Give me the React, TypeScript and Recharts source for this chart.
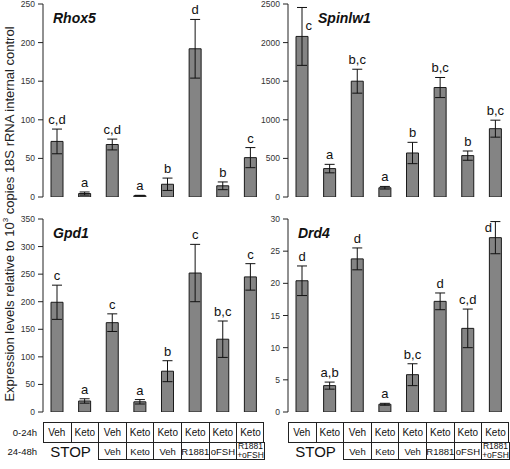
import React from 'react';
import { BarChart, Bar, XAxis, YAxis, ErrorBar, LabelList } from 'recharts';

// groups, left to right (0-24h / 24-48h treatment)
const firstPeriod = ['Veh', 'Keto', 'Veh', 'Keto', 'Keto', 'Keto', 'Keto', 'Keto'];
const secondPeriod = ['STOP', 'STOP', 'Veh', 'Keto', 'Veh', 'R1881', 'oFSH', 'R1881\n+oFSH'];

const rhox5Values = [72, 4.5, 68, 1.7, 16.5, 192, 14.5, 51];
const rhox5Errors = [16, 2, 7, 0.5, 8, 38, 5, 13];
const rhox5Letters = ['c,d', 'a', 'c,d', 'a', 'b', 'd', 'b', 'c'];

const spinlw1Values = [2080, 368, 1500, 120, 570, 1418, 536, 885];
const spinlw1Errors = [375, 55, 155, 17, 138, 130, 60, 110];
const spinlw1Letters = ['c', 'a', 'b,c', 'a', 'b', 'b,c', 'b', 'b,c'];

const gpd1Values = [199, 20, 162, 18.5, 74, 252, 132, 245];
const gpd1Errors = [31, 4, 16, 4, 19, 52, 33, 24];
const gpd1Letters = ['c', 'a', 'c', 'a', 'b', 'c', 'b,c', 'c'];

const drd4Values = [20.4, 4.1, 23.8, 1.2, 5.8, 17.2, 13.0, 27.1];
const drd4Errors = [2.3, 0.55, 1.7, 0.15, 1.7, 1.3, 3.0, 2.5];
const drd4Letters = ['d', 'a,b', 'd', 'a', 'b,c', 'd', 'c,d', 'd'];

const rhox5Ticks = [0, 50, 100, 150, 200, 250];
const spinlw1Ticks = [0, 500, 1000, 1500, 2000, 2500];
const gpd1Ticks = [0, 50, 100, 150, 200, 250, 300, 350];
const drd4Ticks = [0, 5, 10, 15, 20, 25, 30];

const FONT = 'Arial, "Liberation Sans", Helvetica, sans-serif';
const BAND = 27.6;

function makeRows(values: number[], errors: number[], letters: string[]) {
  return values.map((v, i) => ({ name: `g${i}`, value: v, error: errors[i], letter: letters[i] }));
}

function LetterLabel(props: any) {
  const { x, y, width, height, index, value, rows, plotTop } = props;
  const row = rows[index];
  const cx = x + width / 2;
  const perUnit = row.value > 0 ? height / row.value : 0;
  const errTop = y - row.error * perUnit;
  let tx = cx;
  let ty = errTop - 5;
  let anchor: 'middle' | 'start' | 'end' = 'middle';
  if (errTop - 12 < plotTop) {
    // no room above the error bar: put the letter beside it
    const inward = index < rows.length / 2;
    tx = inward ? cx + 3.5 : cx - 3.5;
    anchor = inward ? 'start' : 'end';
    ty = y - 6;
  }
  return (
    <text x={tx} y={ty} textAnchor={anchor} fontSize={13} fontFamily={FONT} fill="#111">
      {value}
    </text>
  );
}

interface PanelProps {
  left: number;
  top: number;
  width: number;
  title: string;
  titleOffset: number;
  rows: { name: string; value: number; error: number; letter: string }[];
  ticks: number[];
  marginLeft: number;
  marginRight: number;
}

function Panel({ left, top, width, title, titleOffset, rows, ticks, marginLeft, marginRight }: PanelProps) {
  const height = 215;
  const marginTop = 10;
  const max = ticks[ticks.length - 1];
  return (
    <div style={{ position: 'absolute', left, top: top - 6, width, height }}>
      <BarChart
        width={width}
        height={height}
        data={rows}
        margin={{ top: marginTop, right: marginRight, bottom: 12, left: marginLeft }}
        barCategoryGap={0}
      >
        <XAxis dataKey="name" tick={false} tickLine={false} height={0} axisLine={{ stroke: '#222' }} />
        <YAxis
          width={30}
          domain={[0, max]}
          ticks={ticks}
          interval={0}
          allowDataOverflow
          tickSize={5}
          tickMargin={3}
          axisLine={{ stroke: '#222' }}
          tickLine={{ stroke: '#222' }}
          tick={{ fontSize: 8.5, fontFamily: FONT, fill: '#333' }}
        />
        <Bar dataKey="value" fill="#848484" stroke="#1a1a1a" strokeWidth={1} barSize={12} isAnimationActive={false}>
          <ErrorBar dataKey="error" width={5} stroke="#111" strokeWidth={1} direction="y" />
          <LabelList dataKey="letter" content={(p: any) => <LetterLabel {...p} rows={rows} plotTop={marginTop} />} />
        </Bar>
      </BarChart>
      <div
        style={{
          position: 'absolute',
          left: marginLeft + 30 + titleOffset,
          top: 16,
          fontFamily: FONT,
          fontWeight: 'bold',
          fontStyle: 'italic',
          fontSize: 14,
          color: '#111',
          lineHeight: '16px',
        }}
      >
        {title}
      </div>
    </div>
  );
}

function TreatmentTable({ left, showLabels }: { left: number; showLabels: boolean }) {
  const top = 422;
  const rowH = 21;
  const row2H = 17;
  const cell: React.CSSProperties = {
    position: 'absolute',
    boxSizing: 'border-box',
    display: 'flex',
    alignItems: 'center',
    justifyContent: 'center',
    fontFamily: FONT,
    fontSize: 10,
    color: '#111',
    textAlign: 'center',
    lineHeight: '9px',
  };
  const width = BAND * firstPeriod.length;
  return (
    <>
      {showLabels && (
        <>
          <div style={{ ...cell, left: 0, width: left - 6, top, height: rowH, justifyContent: 'flex-end', fontSize: 9.5 }}>0-24h</div>
          <div style={{ ...cell, left: 0, width: left - 6, top: top + rowH, height: row2H, justifyContent: 'flex-end', fontSize: 9.5 }}>24-48h</div>
        </>
      )}
      <div style={{ position: 'absolute', left, top, width, height: rowH, border: '1px solid #222', boxSizing: 'border-box' }} />
      {firstPeriod.map((t, i) => (
        <div
          key={`a${i}`}
          style={{
            ...cell,
            left: left + i * BAND,
            top,
            width: BAND,
            height: rowH,
            borderLeft: i > 0 ? '1px solid #222' : undefined,
          }}
        >
          {t}
        </div>
      ))}
      <div style={{ ...cell, left, top: top + rowH, width: BAND * 2, height: row2H, fontSize: 15 }}>STOP</div>
      {secondPeriod.slice(2).map((t, j) => {
        const i = j + 2;
        const lines = t.split('\n');
        return (
          <div
            key={`b${i}`}
            style={{
              ...cell,
              left: left + i * BAND,
              top: top + rowH - 1,
              width: BAND + 1,
              height: row2H + 1,
              border: '1px solid #222',
              flexDirection: 'column',
              fontSize: lines.length > 1 ? 8.5 : 9.5,
            }}
          >
            {lines.map((l, k) => (
              <span key={k}>{l}</span>
            ))}
          </div>
        );
      })}
    </>
  );
}

export default function App() {
  return (
    <div style={{ position: 'absolute', left: 0, top: 0, width: 510, height: 469, background: '#fff', overflow: 'hidden' }}>
      <Panel left={0} top={0} width={270} title="Rhox5" titleOffset={10} rows={makeRows(rhox5Values, rhox5Errors, rhox5Letters)} ticks={rhox5Ticks} marginLeft={13} marginRight={6} />
      <Panel left={255} top={0} width={255} title="Spinlw1" titleOffset={30} rows={makeRows(spinlw1Values, spinlw1Errors, spinlw1Letters)} ticks={spinlw1Ticks} marginLeft={3} marginRight={1} />
      <Panel left={0} top={215} width={270} title="Gpd1" titleOffset={10} rows={makeRows(gpd1Values, gpd1Errors, gpd1Letters)} ticks={gpd1Ticks} marginLeft={13} marginRight={6} />
      <Panel left={255} top={215} width={255} title="Drd4" titleOffset={10} rows={makeRows(drd4Values, drd4Errors, drd4Letters)} ticks={drd4Ticks} marginLeft={3} marginRight={1} />
      <div
        style={{
          position: 'absolute',
          left: 9,
          top: 214,
          transform: 'translate(-50%, -50%) rotate(-90deg)',
          whiteSpace: 'nowrap',
          fontFamily: FONT,
          fontSize: 13,
          color: '#222',
        }}
      >
        Expression levels relative to 10<sup style={{ fontSize: 8 }}>3</sup> copies 18S rRNA internal control
      </div>
      <TreatmentTable left={43} showLabels />
      <TreatmentTable left={288} showLabels={false} />
    </div>
  );
}
